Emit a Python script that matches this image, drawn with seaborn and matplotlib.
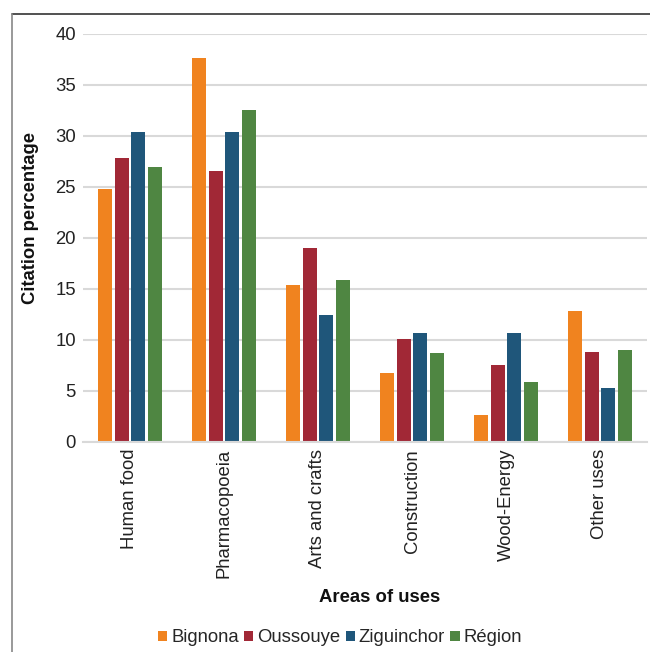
import matplotlib
matplotlib.use("Agg")
import matplotlib.pyplot as plt
from matplotlib.patches import Patch
from matplotlib.lines import Line2D
import seaborn as sns
import pandas as pd

categories = ["Human food", "Pharmacopoeia", "Arts and crafts", "Construction", "Wood-Energy", "Other uses"]
bignona = [24.8, 37.6, 15.4, 6.8, 2.6, 12.85]
oussouye = [27.8, 26.6, 19.0, 10.1, 7.55, 8.8]
ziguinchor = [30.4, 30.4, 12.45, 10.7, 10.7, 5.3]
region = [27.0, 32.5, 15.9, 8.7, 5.9, 9.0]
series_names = ["Bignona", "Oussouye", "Ziguinchor", "Région"]
colors = ["#F0831F", "#A12836", "#1F567A", "#4F8642"]
yticks = [0, 5, 10, 15, 20, 25, 30, 35, 40]

rows = []
for name, vals in zip(series_names, [bignona, oussouye, ziguinchor, region]):
    for c, v in zip(categories, vals):
        rows.append({"Area": c, "Series": name, "Value": v})
df = pd.DataFrame(rows)

sns.set_theme(style="white")
plt.rcParams["font.family"] = ["Liberation Sans", "DejaVu Sans"]

FS = 13.3

fig = plt.figure(figsize=(6.5, 6.52), dpi=100)
ax = fig.add_axes([83/650, 1-442/652, 564/650, 408/652])

sns.barplot(data=df, x="Area", y="Value", hue="Series", order=categories,
            hue_order=series_names, palette=colors, saturation=1,
            width=0.7, gap=0.15, linewidth=0, errorbar=None, ax=ax, legend=False)

ax.set_ylim(0, 40)
ax.set_xlim(-0.5, 5.5)
ax.set_yticks(yticks)
ax.set_yticklabels([str(t) for t in yticks], fontsize=FS, color="#222222")
ax.set_xticks(range(len(categories)))
ax.set_xticklabels(categories, rotation=90, fontsize=FS, color="#222222")
ax.tick_params(axis="both", length=0, pad=5)
ax.yaxis.grid(True, color="#D9D9D9", linewidth=1.5)
ax.set_axisbelow(True)
for s in ["left", "right", "top"]:
    ax.spines[s].set_visible(False)
ax.spines["bottom"].set_color("#D9D9D9")
ax.spines["bottom"].set_linewidth(1.5)

ax.set_xlabel("")
ax.set_ylabel("")
fig.text(31/650, 1-218/652, "Citation percentage", rotation=90, fontsize=FS,
         fontweight="bold", ha="center", va="center", color="#111111")
fig.text(380/650, 1-598/652, "Areas of uses", fontsize=FS,
         fontweight="bold", ha="center", va="center", color="#111111")

handles = [Patch(facecolor=c, edgecolor="none") for c in colors]
fig.legend(handles, series_names, loc="center", bbox_to_anchor=(340/650, 1-638/652),
           ncol=4, frameon=False, fontsize=FS, handlelength=0.5, handleheight=0.5,
           handletextpad=0.2, columnspacing=0.3, borderaxespad=0)

fig.add_artist(Line2D([12/650, 1.0], [1-14/652, 1-14/652], color="#333333", linewidth=1.2,
                      transform=fig.transFigure))
fig.add_artist(Line2D([12/650, 12/650], [1-14/652, 0], color="#888888", linewidth=1.2,
                      transform=fig.transFigure))

fig.savefig("out.png", dpi=100)
